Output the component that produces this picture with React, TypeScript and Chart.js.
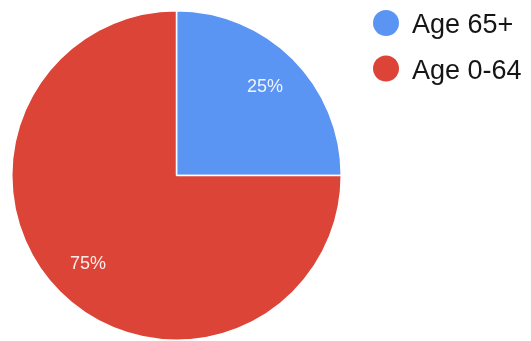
import React, { useEffect, useRef } from "react";
import { Chart, registerables } from "chart.js";

Chart.register(...registerables);

const categories = ["Age 65+", "Age 0-64"];
const values = [25, 75];
const colors = ["#5b95f3", "#dc4437"];

const overlayPlugin = {
  id: "overlay",
  afterDatasetsDraw(chart: any) {
    const ctx = chart.ctx;
    const meta = chart.getDatasetMeta(0);
    const ds = chart.data.datasets[0];
    const total = (ds.data as number[]).reduce((a, b) => a + b, 0);
    ctx.save();
    ctx.font = "18px 'Liberation Sans', Arial, sans-serif";
    ctx.fillStyle = "rgba(255,255,255,0.9)";
    ctx.textAlign = "center";
    ctx.textBaseline = "middle";
    meta.data.forEach((arc: any, i: number) => {
      const p = arc.getProps(["x", "y", "startAngle", "endAngle", "outerRadius"], true);
      const mid = (p.startAngle + p.endAngle) / 2;
      const r = p.outerRadius * 0.76;
      const pct = Math.round(((ds.data[i] as number) / total) * 100) + "%";
      ctx.fillText(pct, p.x + Math.cos(mid) * r, p.y + Math.sin(mid) * r);
    });
    // legend
    ctx.font = "27px 'Liberation Sans', Arial, sans-serif";
    ctx.textAlign = "left";
    ctx.textBaseline = "alphabetic";
    const labels = chart.data.labels as string[];
    labels.forEach((lab, i) => {
      const y = 23 + i * 45.5;
      ctx.beginPath();
      ctx.arc(386, y, 13, 0, Math.PI * 2);
      ctx.fillStyle = (ds.backgroundColor as string[])[i];
      ctx.fill();
      ctx.fillStyle = "#151515";
      ctx.fillText(lab, 412, y + 10);
    });
    ctx.restore();
  },
};

export default function App() {
  const ref = useRef<HTMLCanvasElement>(null);
  useEffect(() => {
    if (!ref.current) return;
    const chart = new Chart(ref.current, {
      type: "pie",
      data: {
        labels: categories,
        datasets: [
          {
            data: values,
            backgroundColor: colors,
            borderColor: "#ffffff",
            borderWidth: 1.5,
          },
        ],
      },
      options: {
        animation: false,
        responsive: false,
        maintainAspectRatio: false,
        layout: { padding: { left: 10, right: 188, top: 10, bottom: -1 } },
        plugins: { legend: { display: false }, tooltip: { enabled: false } },
      },
      plugins: [overlayPlugin],
    });
    return () => chart.destroy();
  }, []);
  return (
    <div style={{ position: "fixed", left: 0, top: 0, width: 531, height: 341, background: "#fff" }}>
      <canvas ref={ref} width={531} height={341} style={{ width: 531, height: 341 }} />
    </div>
  );
}
